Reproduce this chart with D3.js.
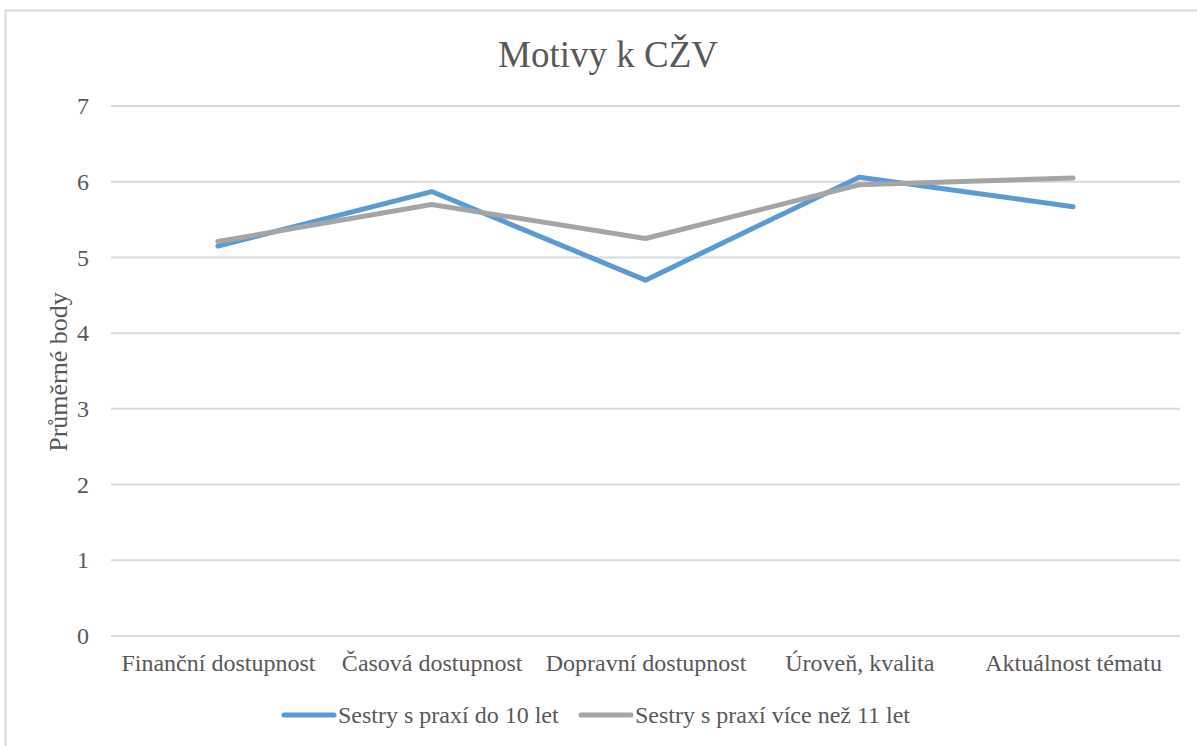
<!DOCTYPE html>
<meta charset="utf-8">
<head>
  <title>Motivy k CŽV</title>
</head>

<style>
body { margin: 0; background: #fff; }
text { font-family: "Liberation Serif", "Times New Roman", serif; fill: #595959; }
.grid line { stroke: #d9d9d9; stroke-width: 2; }
</style>

<body>
  <svg width="1197" height="746"></svg>

  <script src="https://cdnjs.cloudflare.com/ajax/libs/d3/7.8.5/d3.min.js"></script>

  <script>
var categories = ["Finanční dostupnost", "Časová dostupnost", "Dopravní dostupnost", "Úroveň, kvalita", "Aktuálnost tématu"]
var do10 = [5.15, 5.87, 4.70, 6.06, 5.67]
var nad11 = [5.21, 5.70, 5.25, 5.96, 6.05]
var seriesNames = ["Sestry s praxí do 10 let", "Sestry s praxí více než 11 let"]
var colors = ["#5b9bd5", "#a5a5a5"]
var yTicks = [0, 1, 2, 3, 4, 5, 6, 7]

var svg = d3.select('svg')

// chart frame
svg.append('rect')
  .attr('x', 5.5).attr('y', 10.5)
  .attr('width', 1300).attr('height', 800)
  .attr('fill', 'none')
  .attr('stroke', '#d9d9d9')
  .attr('stroke-width', 2)

var plotLeft = 111, plotRight = 1180, plotTop = 106, plotBottom = 636

var x = d3.scalePoint()
  .domain(categories)
  .range([plotLeft, plotRight])
  .padding(0.5)

var y = d3.scaleLinear()
  .domain([0, 7])
  .range([plotBottom, plotTop])

// gridlines
svg.append('g')
  .attr('class', 'grid')
  .selectAll('line')
  .data(yTicks)
  .enter()
  .append('line')
  .attr('x1', plotLeft)
  .attr('x2', plotRight)
  .attr('y1', function(d) { return y(d) })
  .attr('y2', function(d) { return y(d) })

// y tick labels
var yAxis = svg.append('g')
  .attr('transform', 'translate(' + (plotLeft - 22) + ',0)')
  .call(d3.axisLeft(y).tickValues(yTicks).tickFormat(d3.format('d')).tickSize(0).tickPadding(0))
yAxis.select('.domain').remove()
yAxis.selectAll('text')
  .style('font-size', '24px')
  .style('font-family', '"Liberation Serif", serif')
  .attr('fill', '#595959')
  .attr('dy', '0.32em')

// x labels
var xAxis = svg.append('g')
  .attr('transform', 'translate(0,' + plotBottom + ')')
  .call(d3.axisBottom(x).tickSize(0).tickPadding(18))
xAxis.select('.domain').remove()
xAxis.selectAll('text')
  .style('font-size', '24px')
  .style('font-family', '"Liberation Serif", serif')
  .attr('fill', '#595959')

// lines
var line = d3.line()
  .x(function(d, i) { return x(categories[i]) })
  .y(function(d) { return y(d) })

svg.append('path')
  .datum(do10)
  .attr('d', line)
  .attr('fill', 'none')
  .attr('stroke', colors[0])
  .attr('stroke-width', 5)
  .attr('stroke-linecap', 'round')
  .attr('stroke-linejoin', 'round')

svg.append('path')
  .datum(nad11)
  .attr('d', line)
  .attr('fill', 'none')
  .attr('stroke', colors[1])
  .attr('stroke-width', 5)
  .attr('stroke-linecap', 'round')
  .attr('stroke-linejoin', 'round')

// title
svg.append('text')
  .attr('x', 608)
  .attr('y', 67)
  .attr('text-anchor', 'middle')
  .style('font-size', '37px')
  .text('Motivy k CŽV')

// y axis title
svg.append('text')
  .attr('transform', 'translate(67,' + ((plotTop + plotBottom) / 2 + 1) + ') rotate(-90)')
  .attr('text-anchor', 'middle')
  .style('font-size', '26px')
  .text('Průměrné body')

// legend
var legendX = [282, 579]
var legend = svg.append('g')
  .selectAll('g')
  .data(seriesNames)
  .enter()
  .append('g')
  .attr('transform', function(d, i) { return 'translate(' + legendX[i] + ',715)' })

legend.append('line')
  .attr('x1', 2).attr('x2', 52)
  .attr('y1', 0).attr('y2', 0)
  .attr('stroke', function(d, i) { return colors[i] })
  .attr('stroke-width', 5)
  .attr('stroke-linecap', 'round')

legend.append('text')
  .attr('x', 56)
  .attr('dy', '0.32em')
  .style('font-size', '24px')
  .text(function(d) { return d })
  </script>
</body>
</html>
